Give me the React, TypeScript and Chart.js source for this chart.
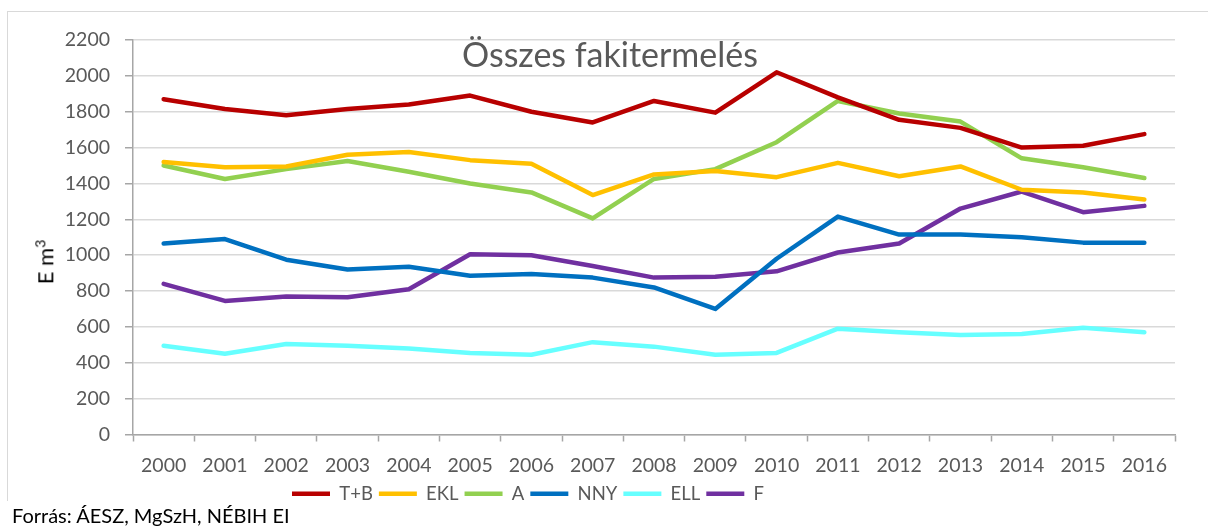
import React, { useEffect, useRef } from "react";
import { Chart, registerables } from "chart.js";

Chart.register(...registerables);

const years = ["2000", "2001", "2002", "2003", "2004", "2005", "2006", "2007", "2008", "2009", "2010", "2011", "2012", "2013", "2014", "2015", "2016"];

const tbValues = [1870, 1815, 1780, 1815, 1840, 1890, 1800, 1740, 1860, 1795, 2020, 1880, 1755, 1710, 1600, 1610, 1675];
const eklValues = [1520, 1490, 1495, 1560, 1575, 1530, 1510, 1335, 1450, 1470, 1435, 1515, 1440, 1495, 1365, 1350, 1310];
const aValues = [1500, 1425, 1480, 1525, 1465, 1400, 1350, 1205, 1425, 1480, 1630, 1860, 1790, 1745, 1540, 1490, 1430];
const nnyValues = [1065, 1090, 975, 920, 935, 885, 895, 875, 820, 700, 980, 1215, 1115, 1115, 1100, 1070, 1070];
const ellValues = [495, 450, 505, 495, 480, 455, 445, 515, 490, 445, 455, 590, 570, 555, 560, 595, 570];
const fValues = [840, 745, 770, 765, 810, 1005, 1000, 940, 875, 880, 910, 1015, 1065, 1260, 1355, 1240, 1275];

const seriesNames = ["T+B", "EKL", "A", "NNY", "ELL", "F"];
const seriesData = [tbValues, eklValues, aValues, nnyValues, ellValues, fValues];
const seriesColors = ["#B80000", "#FFC000", "#92D050", "#0070C0", "#66FFFF", "#7030A0"];

const yMin = 0;
const yMax = 2200;
const yStep = 200;

const titleText = "Összes fakitermelés";
const sourceText = "Forrás: ÁESZ, MgSzH, NÉBIH EI";

const FONT = 'Lato, "Open Sans", sans-serif';
const LEGEND_LEFT = 278;

const legendShift = {
  id: "legendShift",
  afterLayout(chart: any) {
    const lg = chart.legend;
    if (lg) {
      const w = lg.right - lg.left;
      lg.left = LEGEND_LEFT;
      lg.right = LEGEND_LEFT + w;
    }
  },
};

export default function App() {
  const canvasRef = useRef<HTMLCanvasElement | null>(null);

  useEffect(() => {
    if (!canvasRef.current) return;
    const chart = new Chart(canvasRef.current, {
      type: "line",
      data: {
        labels: years,
        datasets: seriesNames.map((name, i) => ({
          label: name,
          data: seriesData[i],
          borderColor: seriesColors[i],
          backgroundColor: seriesColors[i],
          borderWidth: 4.5,
          pointRadius: 0,
          pointHoverRadius: 0,
          tension: 0,
          borderCapStyle: "round",
          borderJoinStyle: "round",
        })),
      },
      options: {
        responsive: false,
        animation: false,
        layout: { padding: { top: 28, right: 33, left: 0, bottom: 0 } },
        plugins: {
          title: { display: false },
          tooltip: { enabled: false },
          legend: {
            display: true,
            position: "bottom",
            align: "start",
            labels: {
              usePointStyle: true,
              pointStyle: "line",
              pointStyleWidth: 38,
              padding: 6,
              color: "#595959",
              font: { family: FONT, size: 18.5 },
            },
          },
        },
        scales: {
          x: {
            offset: true,
            grid: {
              offset: true,
              drawOnChartArea: false,
              drawTicks: true,
              tickLength: 7,
              tickColor: "#a6a6a6",
              tickWidth: 1.5,
            },
            border: { color: "#a6a6a6", width: 1.5 },
            ticks: {
              color: "#595959",
              font: { family: FONT, size: 19.5 },
              padding: 13,
              maxRotation: 0,
              autoSkip: false,
            },
            afterFit: (s: any) => {
              s.height = 44;
            },
          },
          y: {
            min: yMin,
            max: yMax,
            grid: {
              color: "#d9d9d9",
              lineWidth: 1.5,
              tickLength: 8,
              tickColor: "#a6a6a6",
              tickWidth: 1.5,
            },
            border: { color: "#a6a6a6", width: 1.5 },
            ticks: {
              stepSize: yStep,
              color: "#595959",
              font: { family: FONT, size: 19.5 },
              padding: 15,
              callback: (v: any) => String(v),
            },
            afterFit: (s: any) => {
              s.width = 125;
            },
          },
        },
      },
      plugins: [legendShift],
    } as any);
    return () => chart.destroy();
  }, []);

  return (
    <div style={{ position: "fixed", left: 0, top: 0, width: 1208, height: 527, overflow: "hidden", background: "#fff" }}>
      <div
        style={{
          position: "absolute",
          left: 7,
          top: 11,
          width: 1201,
          height: 490,
          borderTop: "1.5px solid #d9d9d9",
          borderLeft: "1.5px solid #d9d9d9",
          boxSizing: "border-box",
        }}
      />
      <canvas
        ref={canvasRef}
        width={1200}
        height={501}
        style={{ position: "absolute", left: 8, top: 12, width: 1200, height: 501 }}
      />
      <div
        style={{
          position: "absolute",
          left: 310,
          top: 34,
          width: 600,
          textAlign: "center",
          fontFamily: FONT,
          fontSize: 34,
          lineHeight: "40px",
          color: "#595959",
          whiteSpace: "nowrap",
        }}
      >
        {titleText}
      </div>
      <div
        style={{
          position: "absolute",
          left: 43,
          top: 262,
          transform: "translate(-50%, -50%) rotate(-90deg)",
          fontFamily: FONT,
          fontSize: 22,
          lineHeight: "26px",
          color: "#000",
          whiteSpace: "nowrap",
        }}
      >
        E m<sup style={{ fontSize: 14 }}>3</sup>
      </div>
      <div
        style={{
          position: "absolute",
          left: 12,
          top: 503,
          fontFamily: FONT,
          fontSize: 20,
          lineHeight: "24px",
          color: "#000",
          whiteSpace: "nowrap",
        }}
      >
        {sourceText}
      </div>
    </div>
  );
}
